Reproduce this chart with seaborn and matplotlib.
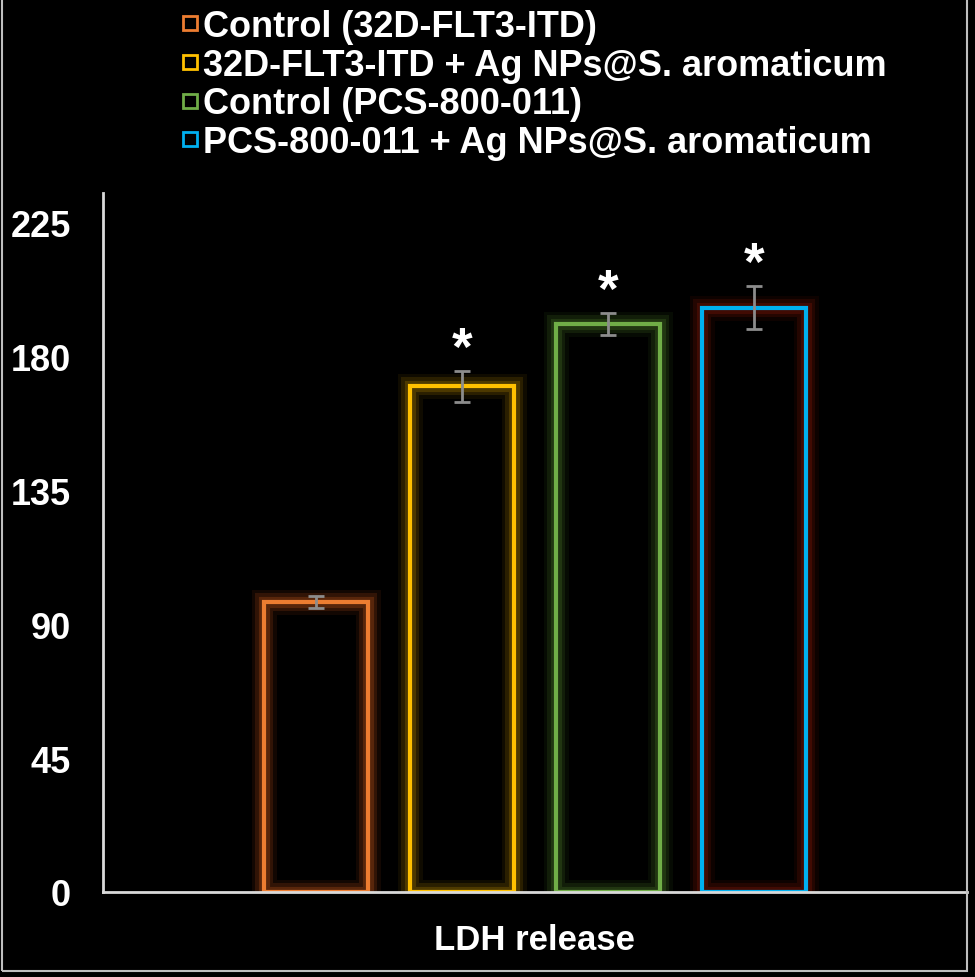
import pandas as pd
import seaborn as sns
from matplotlib import pyplot as plt
from matplotlib import patheffects as pe
from matplotlib.lines import Line2D
from matplotlib.patches import Rectangle

groups = ["Control (32D-FLT3-ITD)",
          "32D-FLT3-ITD + Ag NPs@S. aromaticum",
          "Control (PCS-800-011)",
          "PCS-800-011 + Ag NPs@S. aromaticum"]
values = [97.5, 170, 191, 196.5]
errors = [2, 5.2, 3.7, 7.2]
stars = ["", "*", "*", "*"]
category = "LDH release"
yticks = [0, 45, 90, 135, 180, 225]

colors = ["#ED7D31", "#FFC000", "#70AD47", "#00B0F0"]
glows = ["#7a3510", "#6a5000", "#2f4a18", "#5a1005"]

df = pd.DataFrame({"cat": [category] * 4, "group": groups, "val": values})

sns.set_style("dark", {"axes.facecolor": "black", "figure.facecolor": "black",
                       "axes.edgecolor": "#d9d9d9", "grid.color": "black"})
plt.rcParams["font.family"] = ["Liberation Sans", "DejaVu Sans"]

fig = plt.figure(figsize=(9.75, 9.78), dpi=100)
ax = fig.add_axes([103 / 975, 1 - 893 / 978, 864 / 975, 699 / 978])

sns.barplot(data=df, x="cat", y="val", hue="group", hue_order=groups,
            palette=colors, fill=False, width=0.676, gap=0.29,
            linewidth=3, errorbar=None, legend=False, ax=ax)

# soft glow, error bars and significance stars
for cont, gl, err, st in zip(ax.containers, glows, errors, stars):
    for bar in cont:
        bar.set_path_effects([
            pe.Stroke(linewidth=18, foreground=gl, alpha=0.15),
            pe.Stroke(linewidth=13, foreground=gl, alpha=0.3),
            pe.Stroke(linewidth=8, foreground=gl, alpha=0.55),
            pe.Normal()])
        xc = bar.get_x() + bar.get_width() / 2
        h = bar.get_height()
        ax.errorbar(xc, h, yerr=err, color="#8c8c8c", capsize=5.5,
                    elinewidth=2, capthick=2, zorder=5)
        if st:
            ax.annotate(st, (xc, h + err), xytext=(0, -3), textcoords="offset points",
                        ha="center", va="bottom", color="white",
                        fontsize=38, fontweight="bold")

ax.set_ylim(0, 235)
ax.set_xlim(-0.5, 0.5)
ax.set_yticks(yticks)
ax.set_yticklabels([str(t) for t in yticks], color="white", fontsize=26, fontweight="bold")
ax.tick_params(axis="y", length=0, pad=23)
ax.tick_params(axis="x", length=0, labelbottom=False)
ax.set_xlabel(category, color="white", fontsize=25, fontweight="bold", labelpad=22)
ax.set_ylabel("")
ax.grid(False)
for s in ["top", "right"]:
    ax.spines[s].set_visible(False)
for s in ["left", "bottom"]:
    ax.spines[s].set_color("#d9d9d9")
    ax.spines[s].set_linewidth(2)

handles = [Line2D([], [], marker="s", linestyle="none", markersize=10,
                  markerfacecolor="none", markeredgecolor=c, markeredgewidth=2)
           for c in colors]
leg = fig.legend(handles, groups, loc="upper left", bbox_to_anchor=(164 / 975, 1 + 8 / 978),
                 frameon=False, fontsize=26, labelcolor="white",
                 handlelength=0.45, handletextpad=0.12, labelspacing=0.1, borderpad=0)
for t in leg.get_texts():
    t.set_fontweight("semibold")

fig.patches.append(Rectangle((2 / 975, 6 / 978), 965 / 975, 1.0, transform=fig.transFigure,
                             fill=False, edgecolor="#bfbfbf", linewidth=1.5))

fig.savefig("out.png", dpi=100, facecolor="black")
